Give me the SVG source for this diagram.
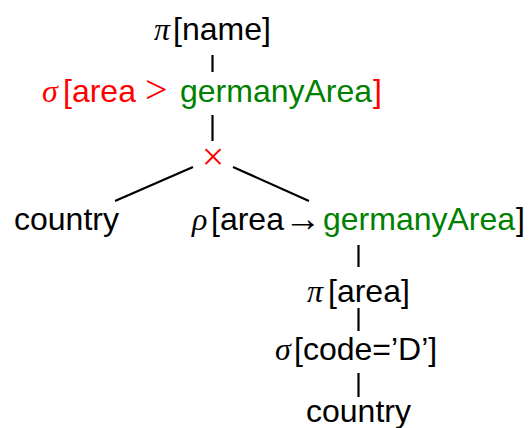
<svg xmlns="http://www.w3.org/2000/svg" width="529" height="428" viewBox="0 0 529 428">
<style>
text{font-size:32px}
.s{font-family:"Liberation Sans",Arial,sans-serif}
.m{font-family:"Liberation Serif","DejaVu Serif",serif;font-style:italic}
.r{font-family:"Liberation Serif","DejaVu Serif",serif}
.ar{font-family:"Liberation Serif","DejaVu Serif",serif;font-size:37px}
.red{fill:#ff0000}
.grn{fill:#008000}
.blk{fill:#000}
.edge{stroke:#000;stroke-width:2.2;fill:none;stroke-linecap:butt}
</style>
<rect width="529" height="428" fill="#fff"/>
<g id="connectors">
<line class="edge" x1="212.5" y1="55" x2="212.5" y2="72"/>
<line class="edge" x1="212.5" y1="115" x2="212.5" y2="141"/>
<line class="edge" x1="193" y1="167" x2="115" y2="201"/>
<line class="edge" x1="233" y1="167" x2="309" y2="201"/>
<line class="edge" x1="358.5" y1="245" x2="358.5" y2="267"/>
<line class="edge" x1="358.5" y1="308" x2="358.5" y2="331"/>
<line class="edge" x1="358.5" y1="373" x2="358.5" y2="397"/>
</g>
<g id="n-proj-name">
<text class="m blk" x="154" y="40">π</text>
<text class="s blk" x="173" y="40">[name]</text>
</g>
<g id="n-sel-area">
<text class="m red" x="42" y="102">σ</text>
<text class="s red" x="63" y="102">[area</text>
<text class="r red" x="145" y="103" style="font-size:40px">&gt;</text>
<text class="s grn" x="180" y="102">germanyArea</text>
<text class="s red" x="373" y="102">]</text>
</g>
<g id="n-cross">
<text class="r red" x="213" y="170" text-anchor="middle" style="font-size:40px">×</text>
</g>
<g id="n-country-left">
<text class="s blk" x="14" y="230">country</text>
</g>
<g id="n-rename">
<text class="m blk" x="192" y="230">ρ</text>
<text class="s blk" x="211" y="230">[area</text>
<text class="ar blk" x="284" y="231">→</text>
<text class="s grn" x="323" y="230">germanyArea</text>
<text class="s blk" x="516" y="230">]</text>
</g>
<g id="n-proj-area">
<text class="m blk" x="307" y="302">π</text>
<text class="s blk" x="328" y="302">[area]</text>
</g>
<g id="n-sel-code">
<text class="m blk" x="275" y="360">σ</text>
<text class="s blk" x="294" y="360">[code=’D’]</text>
</g>
<g id="n-country-bottom">
<text class="s blk" x="306" y="422">country</text>
</g>
</svg>
